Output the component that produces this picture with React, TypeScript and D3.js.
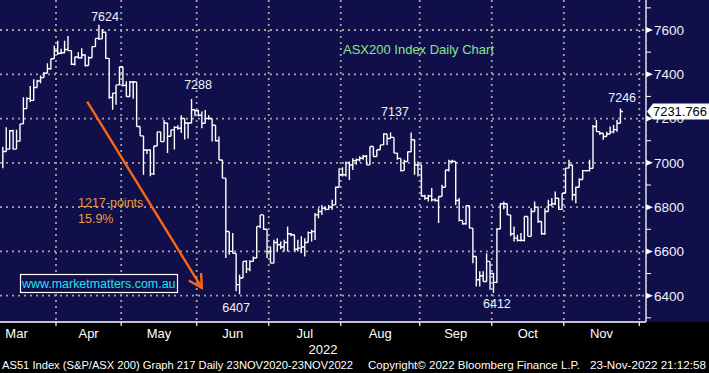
import React from 'react';
import * as d3 from 'd3';

const W = 709;
const H = 373;

// Daily bars (trading-day index 0 = 9 Mar 2022 ... 180 = 23 Nov 2022)
const low = [
  6976, 7050, 7060, 7060, 7085, 7096, 7176, 7245, 7275, 7285, 7340, 7360, 7385, 7405, 7420, 7470,
  7487, 7490, 7495, 7505, 7442, 7440, 7470, 7470, 7435, 7440, 7475, 7525, 7555, 7560, 7470, 7290, 7240, 7262, 7359,
  7345, 7299, 7299, 7290, 7164, 7122, 6946, 7040, 6940, 6945, 7076, 7096, 7096, 7045, 7120, 7060, 7150, 7135, 7105, 7110, 7179, 7210,
  7209, 7156, 7186, 7195, 7096, 7096, 7013, 6931, 6570, 6585, 6592, 6420, 6407, 6480, 6502, 6510, 6555, 6577, 6705, 6698, 6570,
  6547, 6547, 6600, 6610, 6600, 6600, 6668, 6600, 6600, 6592, 6577, 6645, 6645, 6652, 6750, 6765, 6785, 6788, 6788, 6826, 6890,
  6938, 6938, 6923, 6968, 6991, 7006, 7014, 6991, 6991, 7029, 7029, 7059, 7081, 7081, 7111, 7044, 7014, 6961, 6965, 7006, 7051, 6946, 6938,
  6848, 6833, 6826, 6826, 6826, 6728, 6848, 6890, 6961, 7000, 6810, 6735, 6720, 6720, 6705, 6547, 6442, 6442, 6464, 6464, 6427,
  6412, 6457, 6701, 6790, 6765, 6668, 6645, 6645, 6645, 6645, 6668, 6668, 6795, 6728, 6675, 6675, 6780, 6803, 6810, 6788, 6788,
  6863, 6983, 6830, 6818, 6890, 6925, 6961, 6961, 6975, 7141, 7126, 7104, 7119, 7134, 7134, 7141, 7179,
];
const high = [
  7073, 7161, 7148, 7150, 7150, 7176, 7296, 7296, 7347, 7378, 7375, 7395, 7410, 7450, 7470, 7530,
  7552, 7515, 7552, 7573, 7507, 7480, 7500, 7518, 7490, 7480, 7525, 7562, 7624, 7605, 7592, 7472, 7315, 7352, 7434,
  7434, 7368, 7370, 7370, 7365, 7164, 7122, 7060, 7060, 7076, 7140, 7140, 7194, 7180, 7150, 7165, 7170, 7215, 7200, 7180, 7288, 7240,
  7240, 7232, 7239, 7215, 7200, 7164, 7119, 7013, 6931, 6690, 6683, 6592, 6495, 6555, 6560, 6560, 6577, 6713, 6765, 6765, 6700,
  6622, 6653, 6660, 6645, 6653, 6713, 6683, 6675, 6653, 6668, 6660, 6690, 6698, 6773, 6795, 6810, 6803, 6810, 6833, 6893, 6976,
  6980, 7006, 7006, 7021, 7020, 7030, 7036, 7036, 7074, 7074, 7059, 7081, 7134, 7130, 7137, 7115, 7044, 7020, 7014, 7051, 7137, 7104, 7006,
  6991, 6856, 6856, 6886, 6840, 6848, 6901, 6968, 7014, 7014, 7006, 6841, 6740, 6806, 6806, 6705, 6577, 6510, 6510, 6592, 6555,
  6502, 6705, 6818, 6826, 6815, 6765, 6713, 6675, 6683, 6758, 6758, 6795, 6826, 6803, 6735, 6795, 6833, 6841, 6871, 6841, 6863,
  6976, 7014, 6990, 6893, 6931, 6968, 6968, 7014, 7171, 7194, 7141, 7134, 7141, 7164, 7171, 7194, 7246,
];
const close = [
  7051, 7062, 7145, 7062, 7098, 7176, 7245, 7290, 7282, 7340, 7370, 7385, 7405, 7425, 7470, 7505,
  7495, 7497, 7512, 7507, 7445, 7478, 7475, 7487, 7440, 7475, 7525, 7562, 7560, 7590, 7472, 7295, 7315, 7352, 7434,
  7350, 7300, 7365, 7365, 7164, 7122, 7058, 7058, 6950, 7076, 7140, 7096, 7180, 7120, 7149, 7160, 7156, 7200, 7180, 7180, 7240, 7235,
  7215, 7179, 7200, 7200, 7170, 7100, 7013, 6931, 6690, 6600, 6592, 6450, 6480, 6555, 6520, 6555, 6570, 6713, 6765, 6700, 6600,
  6547, 6640, 6630, 6620, 6640, 6680, 6675, 6610, 6615, 6620, 6640, 6685, 6690, 6765, 6780, 6795, 6790, 6800, 6810, 6890, 6946,
  6946, 7000, 6990, 7010, 7014, 7021, 7030, 6991, 7074, 7029, 7059, 7081, 7130, 7110, 7115, 7044, 7020, 6965, 7006, 7050, 7104, 6990, 6991,
  6850, 6840, 6850, 6833, 6830, 6848, 6890, 6968, 7006, 7006, 6830, 6740, 6725, 6806, 6705, 6577, 6472, 6490, 6464, 6555, 6500,
  6460, 6701, 6815, 6815, 6765, 6680, 6660, 6650, 6650, 6758, 6668, 6780, 6800, 6735, 6680, 6780, 6810, 6815, 6840, 6790, 6863,
  6976, 6990, 6856, 6890, 6925, 6965, 6965, 6975, 7164, 7141, 7134, 7119, 7130, 7140, 7150, 7179, 7232,
];
const lastPrice = '7231.766';

const months = ['Mar', 'Apr', 'May', 'Jun', 'Jul', 'Aug', 'Sep', 'Oct', 'Nov'];
const monthFirstDay = [-7, 16, 35, 57, 78, 99, 122, 143, 164];
const monthLastDay = [15, 34, 56, 77, 98, 121, 142, 163, 185];
const yearLabel = '2022';

const yMajor = [6400, 6600, 6800, 7000, 7200, 7400, 7600];
const yMinor = [6300, 6500, 6700, 6900, 7100, 7300, 7500, 7700];

const peakLabels = [
  { text: '7624', idx: 29.8, val: 7661 },
  { text: '7288', idx: 56.9, val: 7356 },
  { text: '7137', idx: 114.3, val: 7230 },
  { text: '7246', idx: 180.5, val: 7293 },
  { text: '6407', idx: 68.0, val: 6346 },
  { text: '6412', idx: 144.0, val: 6366 },
];
const arrowFrom = { idx: 24.6, val: 7277 };
const arrowTo = { idx: 58.0, val: 6435 };
const dropText = ['1217-points', '15.9%'];

const titleText = 'ASX200 Index Daily Chart';
const siteText = 'www.marketmatters.com.au';
const footerLeft = 'AS51 Index (S&P/ASX 200) Graph 217  Daily 23NOV2020-23NOV2022';
const footerMid = 'Copyright\u00A9 2022 Bloomberg Finance L.P.';
const footerRight = '23-Nov-2022 21:12:58';

const FONT = '"Liberation Sans", Arial, sans-serif';

export default function App() {
  const plotBottom = 322;
  const axisX = 646;
  const x = d3.scaleLinear().domain([15.5, 185.5]).range([56, 639.3]);
  const y = d3.scaleLinear().domain([6400, 7600]).range([295.7, 30]);

  const boundaries = monthFirstDay.slice(1).map((s) => s - 0.5).concat([monthLastDay[monthLastDay.length - 1] + 0.5]);

  // price path
  let d = '';
  for (let i = 0; i < close.length; i++) {
    const xi = x(i);
    const prev = i > 0 ? close[i - 1] : close[i];
    const lo = Math.min(low[i], prev);
    const hi = Math.max(high[i], prev);
    d += `M${xi},${y(lo)}V${y(hi)}`;
    const xn = i < close.length - 1 ? x(i + 1) : xi + 2.5;
    d += `M${xi},${y(close[i])}H${xn}`;
  }

  const ax0 = x(arrowFrom.idx), ay0 = y(arrowFrom.val);
  const ax1 = x(arrowTo.idx), ay1 = y(arrowTo.val);
  const ang = Math.atan2(ay1 - ay0, ax1 - ax0);
  const headLen = 15;
  const headAng = 0.5;
  const h1x = ax1 - headLen * Math.cos(ang - headAng), h1y = ay1 - headLen * Math.sin(ang - headAng);
  const h2x = ax1 - headLen * Math.cos(ang + headAng), h2y = ay1 - headLen * Math.sin(ang + headAng);

  const priceY = y(7231.766);

  return (
    <svg width={W} height={H} style={{ position: 'absolute', left: 0, top: 0 }} fontFamily={FONT}>
      <rect x={0} y={0} width={W} height={H} fill="#000000" />
      <rect x={0} y={0} width={W} height={plotBottom} fill="#100f4a" />

      {/* grid */}
      {yMajor.map((v) => (
        <line key={'hg' + v} x1={0} x2={axisX - 2} y1={y(v)} y2={y(v)} stroke="#a3a3a8" strokeWidth={1.8} strokeDasharray="2 4" />
      ))}
      {boundaries.map((b) => (
        <line key={'vg' + b} x1={x(b)} x2={x(b)} y1={0} y2={plotBottom} stroke="#a3a3a8" strokeWidth={1.8} strokeDasharray="2 4" />
      ))}

      {/* axes */}
      <line x1={axisX} x2={axisX} y1={0} y2={plotBottom} stroke="#ffffff" strokeWidth={1.3} />
      <line x1={0} x2={axisX} y1={plotBottom} y2={plotBottom} stroke="#ffffff" strokeWidth={1.5} />
      {boundaries.map((b) => (
        <line key={'xt' + b} x1={x(b)} x2={x(b)} y1={plotBottom} y2={plotBottom + 4} stroke="#ffffff" strokeWidth={1.2} />
      ))}
      {yMinor.map((v) => (
        <line key={'mt' + v} x1={axisX} x2={axisX + 5} y1={y(v)} y2={y(v)} stroke="#ffffff" strokeWidth={1} />
      ))}
      {yMajor.map((v) => (
        <g key={'yt' + v}>
          <polygon points={`${axisX},${y(v) - 3} ${axisX + 7},${y(v)} ${axisX},${y(v) + 3}`} fill="#ffffff" />
          <text x={axisX + 8} y={y(v)} dy="0.36em" fontSize={13.5} fill="#eef2ff">{v}</text>
        </g>
      ))}

      {/* month labels */}
      {months.map((m, k) => (
        <text key={m} x={x((monthFirstDay[k] + monthLastDay[k]) / 2)} y={333} dy="0.36em" textAnchor="middle" fontSize={13} fill="#ffffff">{m}</text>
      ))}
      <text x={323} y={349} dy="0.36em" textAnchor="middle" fontSize={13} fill="#ffffff">{yearLabel}</text>

      {/* price line */}
      <path d={d} fill="none" stroke="#ffffff" strokeWidth={1.4} />

      {/* annotations */}
      <text x={343} y={49} dy="0.36em" fontSize={13} fill="#86e88a">{titleText}</text>
      {peakLabels.map((p) => (
        <text key={p.text} x={x(p.idx)} y={y(p.val)} dy="0.36em" textAnchor="middle" fontSize={12.5} fill="#eef2ff">{p.text}</text>
      ))}
      <line x1={ax0} y1={ay0} x2={ax1} y2={ay1} stroke="#ff6410" strokeWidth={2.4} />
      <polyline points={`${h1x},${h1y} ${ax1},${ay1} ${h2x},${h2y}`} fill="none" stroke="#ff6410" strokeWidth={2.4} />
      <text x={78} y={202} dy="0.36em" fontSize={12.5} fill="#eb9a3a">{dropText[0]}</text>
      <text x={78} y={218} dy="0.36em" fontSize={12.5} fill="#eb9a3a">{dropText[1]}</text>

      <rect x={20.5} y={274.5} width={157} height={18} fill="#100f4a" stroke="#ffffff" strokeWidth={1.2} />
      <text x={22} y={283.5} dy="0.36em" fontSize={12.5} fill="#1fe3f0" textLength={153.5} lengthAdjust="spacingAndGlyphs">{siteText}</text>

      {/* last price tag */}
      <polygon points={`${axisX + 1},${priceY} ${axisX + 7},${priceY - 8} ${W},${priceY - 8} ${W},${priceY + 8} ${axisX + 7},${priceY + 8}`} fill="#ffffff" />
      <text x={axisX + 7} y={priceY} dy="0.36em" fontSize={13} fill="#000000" textLength={54} lengthAdjust="spacingAndGlyphs">{lastPrice}</text>

      {/* footer */}
      <text x={2} y={365} dy="0.36em" fontSize={11} fill="#ffffff" textLength={351} lengthAdjust="spacingAndGlyphs">{footerLeft}</text>
      <text x={368} y={365} dy="0.36em" fontSize={11} fill="#ffffff" textLength={212} lengthAdjust="spacingAndGlyphs">{footerMid}</text>
      <text x={590} y={365} dy="0.36em" fontSize={11} fill="#ffffff" textLength={116} lengthAdjust="spacingAndGlyphs">{footerRight}</text>
    </svg>
  );
}
